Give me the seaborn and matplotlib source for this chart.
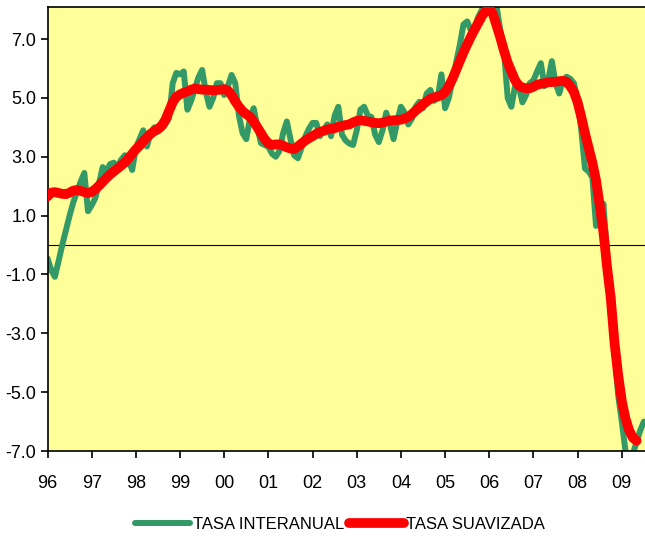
import numpy as np
import pandas as pd
import matplotlib
matplotlib.use("Agg")
import matplotlib.pyplot as plt
import seaborn as sns

# Monthly data starting Jan 1996
tasa_interanual = [
    -0.45, -0.85, -1.08, -0.55, 0.0, 0.5, 1.0, 1.45, 1.8, 2.15, 2.45, 1.15,   # 96
    1.35, 1.6, 2.1, 2.65, 2.5, 2.75, 2.8, 2.65, 2.9, 3.05, 2.9, 2.55,          # 97
    3.3, 3.6, 3.9, 3.35, 3.8, 4.0, 3.85, 3.95, 4.1, 4.3, 5.5, 5.85,            # 98
    5.8, 5.9, 4.6, 4.9, 5.3, 5.7, 5.95, 5.2, 4.7, 5.0, 5.5, 5.5,               # 99
    5.1, 5.4, 5.78, 5.5, 4.4, 3.8, 3.6, 4.3, 4.65, 4.0, 3.46, 3.4,             # 00
    3.34, 3.1, 3.0, 3.2, 3.8, 4.2, 3.6, 3.05, 2.95, 3.3, 3.68, 3.95,           # 01
    4.15, 4.15, 3.7, 3.9, 4.1, 3.7, 4.4, 4.7, 3.75, 3.55, 3.45, 3.4,           # 02
    3.9, 4.6, 4.7, 4.4, 4.35, 3.75, 3.5, 3.9, 4.5, 4.1, 3.6, 4.2,              # 03
    4.7, 4.5, 4.1, 4.3, 4.7, 4.87, 4.65, 5.15, 5.27, 4.9, 5.0, 5.8,            # 04
    4.65, 5.0, 5.6, 6.2, 6.8, 7.5, 7.6, 7.3, 7.4, 7.75, 8.0, 8.2,              # 05
    8.25, 8.3, 8.1, 7.3, 6.6, 5.0, 4.7, 5.4, 5.4, 4.85, 5.1, 5.5,              # 06
    5.6, 5.9, 6.18, 5.4, 5.6, 6.25, 5.5, 5.15, 5.6, 5.72, 5.65, 5.5,           # 07
    4.9, 3.9, 2.6, 2.5, 2.3, 0.65, 0.7, 1.4, -0.3, -2.0, -3.5, -5.1,           # 08
    -6.0, -7.0, -7.3, -7.1, -6.7, -6.3, -6.0,                                  # 09
]

tasa_suavizada = [
    1.65, 1.78, 1.8, 1.77, 1.74, 1.73, 1.78, 1.85, 1.87, 1.84, 1.8, 1.77,       # 96
    1.8, 1.9, 2.02, 2.15, 2.28, 2.4, 2.5, 2.6, 2.7, 2.8, 2.95, 3.1,             # 97
    3.25, 3.38, 3.53, 3.66, 3.78, 3.87, 3.95, 4.05, 4.25, 4.55, 4.85, 5.04,     # 98
    5.12, 5.18, 5.22, 5.28, 5.32, 5.3, 5.28, 5.28, 5.27, 5.26, 5.27, 5.28,      # 99
    5.3, 5.25, 5.1, 4.88, 4.7, 4.55, 4.45, 4.36, 4.2, 4.0, 3.8, 3.6,            # 00
    3.45, 3.4, 3.42, 3.42, 3.38, 3.32, 3.28, 3.26, 3.35, 3.45, 3.55, 3.63,      # 01
    3.7, 3.78, 3.84, 3.88, 3.93, 3.95, 3.97, 4.02, 4.05, 4.08, 4.1, 4.17,       # 02
    4.22, 4.24, 4.22, 4.2, 4.17, 4.15, 4.14, 4.16, 4.2, 4.23, 4.24, 4.25,       # 03
    4.26, 4.3, 4.35, 4.45, 4.57, 4.67, 4.78, 4.88, 4.97, 5.02, 5.05, 5.1,       # 04
    5.2, 5.4, 5.65, 5.95, 6.25, 6.55, 6.82, 7.08, 7.32, 7.55, 7.78, 7.95,       # 05
    8.05, 7.85, 7.45, 7.05, 6.6, 6.2, 5.9, 5.6, 5.42, 5.35, 5.33, 5.33,         # 06
    5.38, 5.45, 5.48, 5.5, 5.53, 5.54, 5.55, 5.57, 5.58, 5.55, 5.4, 5.2,        # 07
    4.85, 4.35, 3.8, 3.3, 2.8, 2.2, 1.35, 0.45, -0.75, -1.8, -3.3, -4.4,        # 08
    -5.3, -5.9, -6.3, -6.55, -6.65,                                             # 09
]

year_labels = ["96", "97", "98", "99", "00", "01", "02", "03", "04", "05",
               "06", "07", "08", "09"]
y_ticks = [-7.0, -5.0, -3.0, -1.0, 1.0, 3.0, 5.0, 7.0]

df_g = pd.DataFrame({"mes": np.arange(len(tasa_interanual)), "valor": tasa_interanual})
df_r = pd.DataFrame({"mes": np.arange(len(tasa_suavizada)), "valor": tasa_suavizada})

plt.rcParams["font.family"] = ["Liberation Sans", "DejaVu Sans"]

fig = plt.figure(figsize=(6.45, 5.37), dpi=100)
ax = fig.add_axes([47.5 / 645, 86 / 537, 1 - 47.5 / 645, 444 / 537])
ax.set_facecolor("#FFFF99")

ax.axhline(0, color="black", lw=0.8, zorder=1)
sns.lineplot(data=df_g, x="mes", y="valor", ax=ax, color="#339966", lw=4.3,
             label="TASA INTERANUAL", zorder=2,
             solid_capstyle="round", solid_joinstyle="round")
sns.lineplot(data=df_r, x="mes", y="valor", ax=ax, color="#FF0000", lw=7,
             label="TASA SUAVIZADA", zorder=3,
             solid_capstyle="round", solid_joinstyle="round")

ax.set_xlim(0, 162.3)
ax.set_ylim(-7, 8.09)
ax.set_xticks(np.arange(0, 12 * len(year_labels), 12))
ax.set_xticklabels(year_labels)
ax.set_yticks(y_ticks)
ax.set_yticklabels([f"{v:.1f}" for v in y_ticks])
ax.set_xlabel("")
ax.set_ylabel("")

for s in ["left", "bottom", "top"]:
    ax.spines[s].set_color("black")
    ax.spines[s].set_linewidth(1.2)
ax.spines["right"].set_visible(False)

ax.tick_params(axis="x", direction="out", length=5, width=1.2, pad=12,
               labelsize=13, colors="black")
ax.tick_params(axis="y", direction="out", length=5, width=1.2, pad=3,
               labelsize=13, colors="black")

leg = ax.legend(loc="center", bbox_to_anchor=(0.49, -0.165), ncol=2, frameon=False,
                fontsize=12, handlelength=3.3, handletextpad=0.15,
                columnspacing=0.3)
for h in leg.get_lines():
    h.set_solid_capstyle("round")

fig.savefig("out.png", dpi=100)
